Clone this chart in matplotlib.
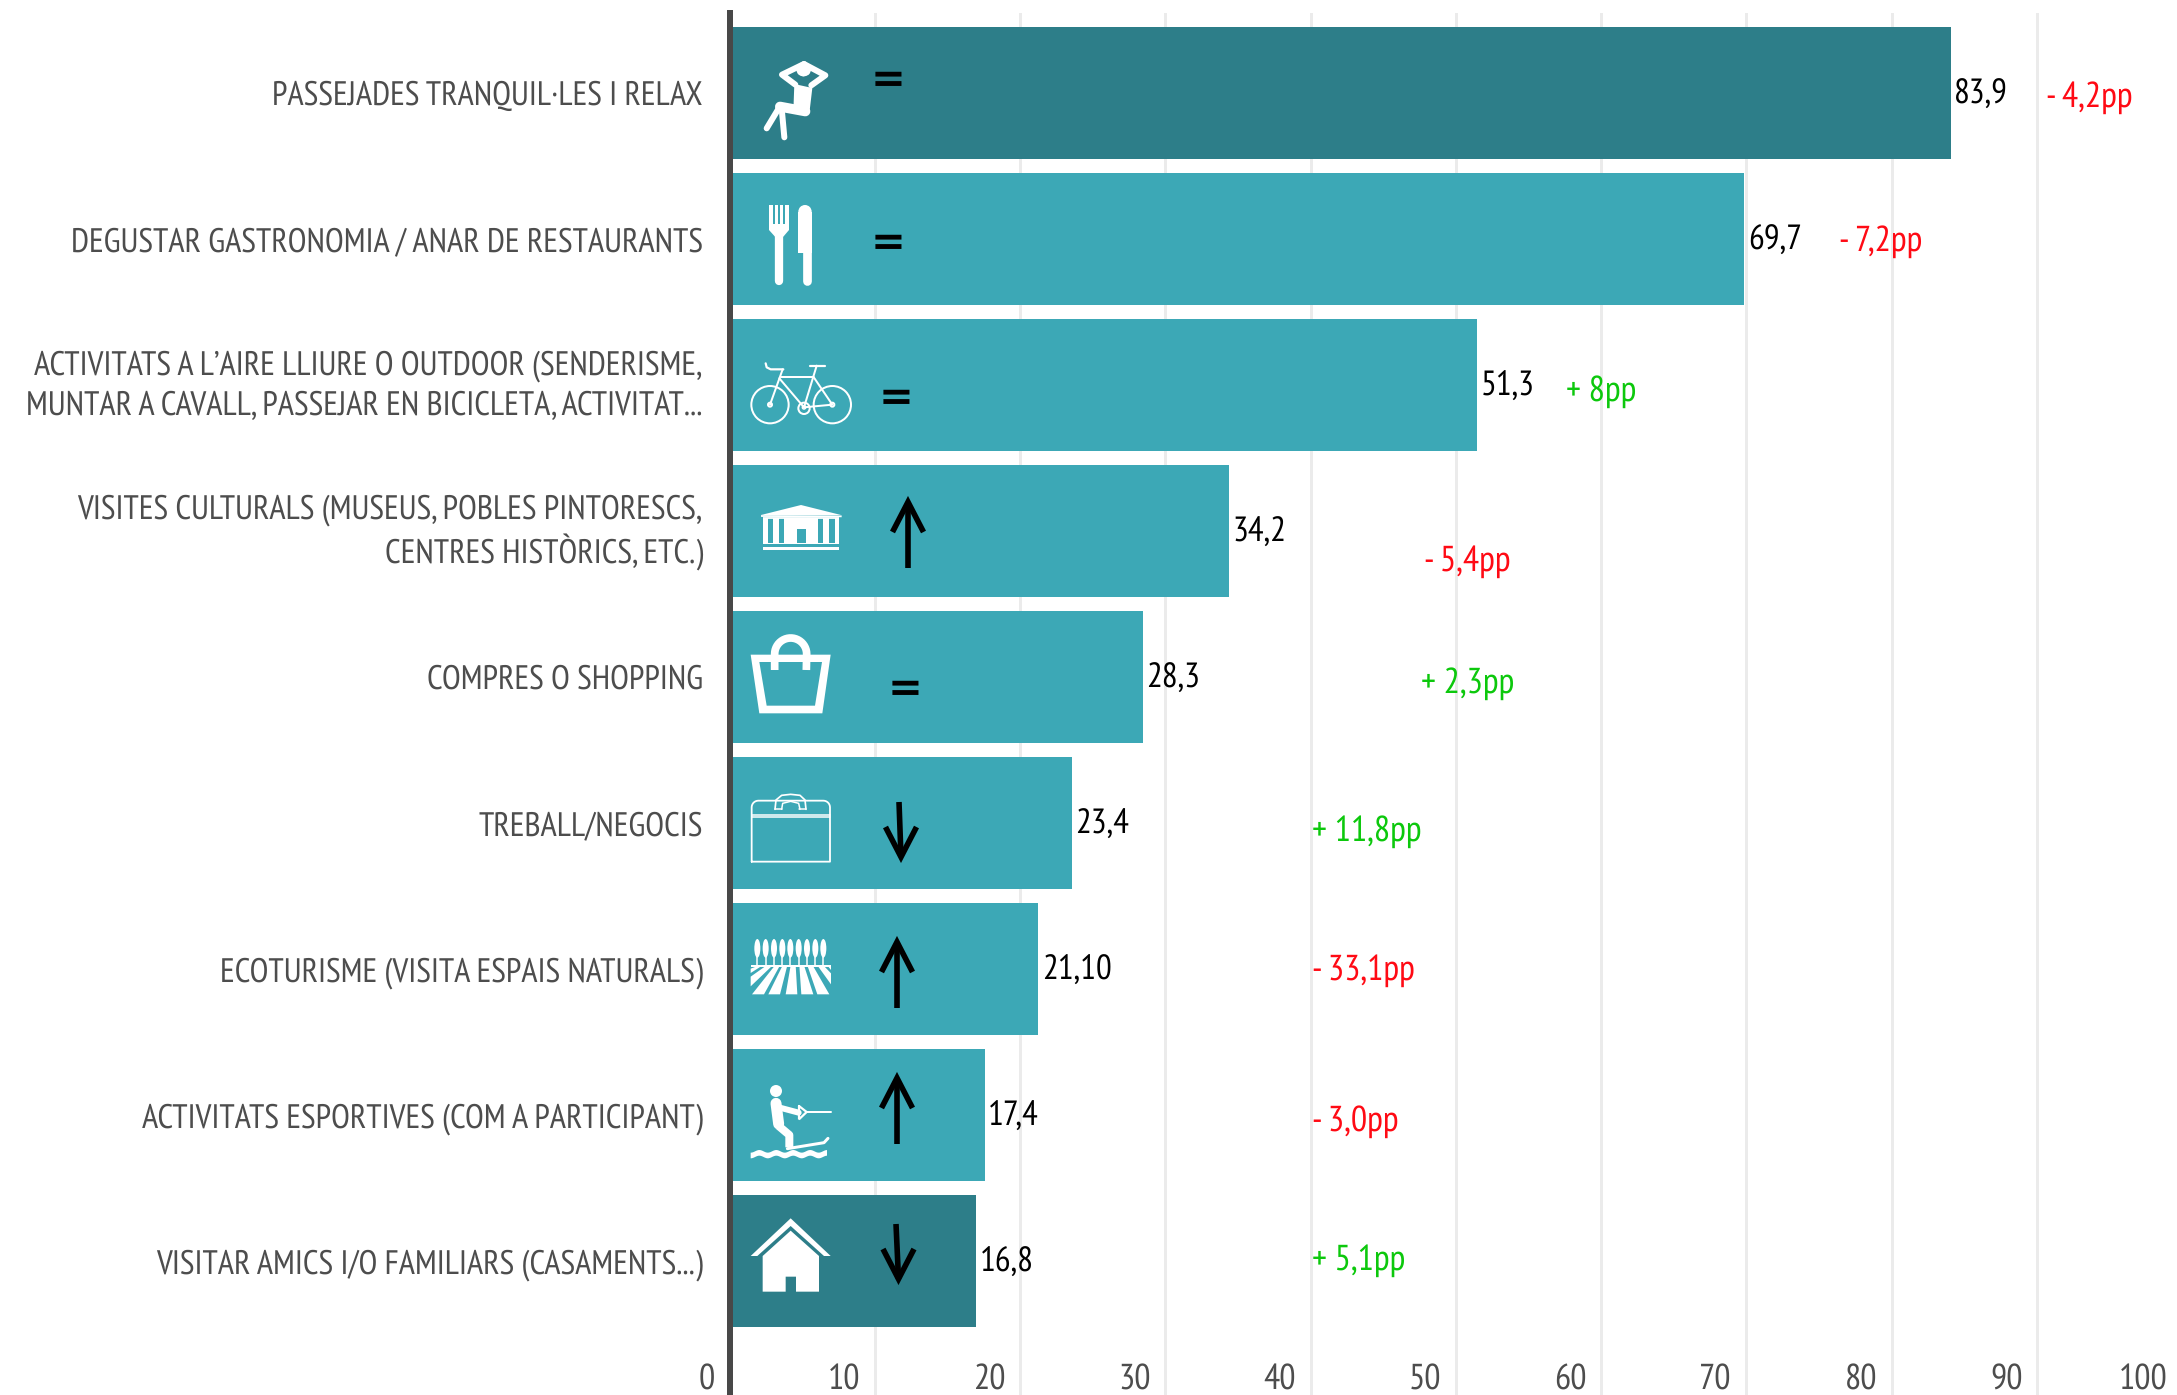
import numpy as np
import matplotlib
matplotlib.use("Agg")
import matplotlib.pyplot as plt
from matplotlib.lines import Line2D
from matplotlib.patches import Polygon, Circle, Ellipse, Rectangle
from matplotlib.transforms import Affine2D, ScaledTranslation

W, H = 2177, 1395
FONT = ["PT Sans Narrow", "DejaVu Sans"]
plt.rcParams["font.family"] = FONT
plt.rcParams["text.hinting"] = "no_hinting"

categories = [
    "PASSEJADES TRANQUIL·LES I RELAX",
    "DEGUSTAR GASTRONOMIA / ANAR DE RESTAURANTS",
    "ACTIVITATS A L’AIRE LLIURE O OUTDOOR (SENDERISME,\nMUNTAR A CAVALL, PASSEJAR EN BICICLETA, ACTIVITAT...",
    "VISITES CULTURALS (MUSEUS, POBLES PINTORESCS,\nCENTRES HISTÒRICS, ETC.)",
    "COMPRES O SHOPPING",
    "TREBALL/NEGOCIS",
    "ECOTURISME (VISITA ESPAIS NATURALS)",
    "ACTIVITATS ESPORTIVES (COM A PARTICIPANT)",
    "VISITAR AMICS I/O FAMILIARS (CASAMENTS...)",
]
values = [83.9, 69.7, 51.3, 34.2, 28.3, 23.4, 21.10, 17.4, 16.8]
value_labels = ["83,9", "69,7", "51,3", "34,2", "28,3", "23,4", "21,10", "17,4", "16,8"]
changes = ["- 4,2pp", "- 7,2pp", "+ 8pp", "- 5,4pp", "+ 2,3pp", "+ 11,8pp", "- 33,1pp", "- 3,0pp", "+ 5,1pp"]
change_x = [90.6, 76.4, 57.6, 47.8, 47.6, 40.1, 40.1, 40.1, 40.1]
change_dy = [1, -1, 3, 27, 3, 5, -2, 3, -4]
highlight = [True, False, False, False, False, False, False, False, True]
xticks = list(range(0, 101, 10))

LIGHT, DARK = "#3CA8B6", "#2D7E89"
GRID, AXIS, GRAY = "#EBEBEB", "#484848", "#4D4D4D"
RED, GREEN = "#FF0A14", "#0CC80C"

px0, px100 = 729.7, 2182.2
row0, pitch = 93.0, 146.0
top_px, bot_px = 13.0, 1395.0

fig = plt.figure(figsize=(W / 100, H / 100), dpi=100, facecolor="white")
ax = fig.add_axes([px0 / W, 0, (px100 - px0) / W, (bot_px - top_px) / H])
ax.set_xlim(0, 100)
ax.set_ylim((bot_px - row0) / pitch, (top_px - row0) / pitch)
ax.set_axisbelow(True)

for s in ("top", "right", "bottom"):
    ax.spines[s].set_visible(False)
ax.spines["left"].set_linewidth(6 * 0.72)
ax.spines["left"].set_color(AXIS)
ax.spines["left"].set_zorder(5)

ax.set_xticks([t for t in xticks])
ax.xaxis.grid(True, color=GRID, lw=3 * 0.72)
ax.tick_params(axis="x", length=0, pad=0, labelsize=26, labelcolor=GRAY, direction="in")
ax.tick_params(axis="y", length=0, pad=27 * 0.72, labelsize=24.7, labelcolor=GRAY)
ax.set_yticks(range(len(categories)), categories, linespacing=1.41, ha="right", ma="right")

ylabs = ax.get_yticklabels()
ylabs[3].set_linespacing(1.25)
for i in (2, 3):
    up = ScaledTranslation(0, (7 if i == 2 else 6) * 0.72 / 72, fig.dpi_scale_trans)
    ylabs[i].set_transform(ylabs[i].get_transform() + up)

xoff = ScaledTranslation(-14.5 * 0.72 / 72, -2 * 0.72 / 72, fig.dpi_scale_trans)
for lab in ax.get_xticklabels():
    lab.set_transform(lab.get_transform() + xoff)
    lab.set_ha("right")
    lab.set_va("bottom")

bar_shift = Affine2D().translate(2.3, 0)
bars = ax.barh(range(len(values)), values, height=132 / pitch,
               color=[DARK if h else LIGHT for h in highlight], zorder=2)
for b in bars:
    b.set_transform(ax.transData + bar_shift)

for i, (v, lab, ch, cx, dy) in enumerate(zip(values, value_labels, changes, change_x, change_dy)):
    ax.annotate(lab, (v, i), xytext=((2.3 + 3.5) * 0.72, -2 * 0.72), textcoords="offset points",
                ha="left", va="center", fontsize=25.3, color="black", zorder=6)
    ax.annotate(ch, (cx, i), xytext=(0, -(dy + 4) * 0.72), textcoords="offset points",
                ha="left", va="center", fontsize=26, color=GREEN if ch.startswith("+") else RED, zorder=6)

# ---------- pictograms and trend signs (decoration, in image pixels) ----------
def T(ox, oy, s=1 / 3):
    return Affine2D().scale(s).translate(ox, oy).scale(1, -1).translate(0, H)

def L(t, pts, lw, c="white", cap="round", join="round", z=4):
    xs, ys = zip(*pts)
    fig.add_artist(Line2D(xs, ys, transform=t, lw=lw * 0.72, color=c, solid_capstyle=cap,
                          solid_joinstyle=join, zorder=z))

def P(t, pts, c="white", z=4):
    fig.add_artist(Polygon(pts, closed=True, transform=t, fc=c, ec="none", zorder=z))

def C(t, x, y, r, c="white", lw=0, z=4, fill=True):
    fig.add_artist(Circle((x, y), r, transform=t, fc=c if fill else "none",
                          ec=c if not fill else "none", lw=lw * 0.72, zorder=z))

def arc(cx, cy, r, a0, a1, n=24):
    a = np.radians(np.linspace(a0, a1, n))
    return list(zip(cx + r * np.cos(a), cy + r * np.sin(a)))

def arrow(x, y_from, y_to, x_tip=None):
    """Black arrow from y_from (tail) to y_to (tip), image pixels."""
    t = T(0, 0, 1)
    x_tip = x if x_tip is None else x_tip
    d = 1 if y_to > y_from else -1
    L(t, [(x, y_from), (x_tip, y_to - d * 3)], 5.6, "black", cap="butt", z=7)
    L(t, [(x_tip - 15.5, y_to - d * 33), (x_tip, y_to - d * 3), (x_tip + 15.5, y_to - d * 33)],
      5.6, "black", cap="butt", join="miter", z=7)

# trend signs
for x, y in [(888.5, 76), (888.5, 239), (896.5, 394), (904.7, 685)]:
    fig.text(x / W, 1 - y / H, "=", family="DejaVu Sans", weight="bold", fontsize=30,
             ha="center", va="center_baseline", color="black", zorder=7)
arrow(908, 568, 499)
arrow(899, 802, 860, 901)
arrow(897, 1008, 939)
arrow(897, 1144, 1075)
arrow(896, 1224, 1282, 898.5)

# man relaxing
t = T(700, 0)
L(t, [(312, 192), (246, 224), (286, 254)], 6)
L(t, [(312, 192), (376, 226), (334, 256)], 6)
C(t, 311, 208, 22)
L(t, [(288, 226), (310, 234), (334, 226)], 2, DARK)
P(t, [(283, 252), (337, 264), (328, 340), (280, 335)])
L(t, [(316, 334), (240, 320)], 10)
L(t, [(238, 322), (200, 385)], 6)
L(t, [(245, 325), (253, 412)], 6)

# cutlery
t = T(700, 0)
P(t, [(207, 615), (267, 615), (267, 690), (250, 710), (225, 710), (207, 690)])
for gx in (222, 237, 252):
    P(t, [(gx - 2.5, 615), (gx + 2.5, 615), (gx + 2.5, 672), (gx - 2.5, 672)], LIGHT)
L(t, [(238, 700), (238, 843)], 8.3)
C(t, 315, 635, 20)
P(t, [(295, 635), (335, 635), (335, 760), (295, 760)])
L(t, [(322, 750), (322, 843)], 8.7)

# bicycle
t = T(700, 0)
for cx in (210, 397):
    C(t, cx, 1214, 56, lw=2, fill=False)
    C(t, cx, 1214, 6, lw=2, fill=False)
L(t, [(242, 1130), (340, 1130)], 2)
L(t, [(248, 1108), (210, 1214)], 2)
L(t, [(238, 1135), (312, 1222), (340, 1130)], 2)
L(t, [(340, 1130), (397, 1214), (312, 1222)], 2)
L(t, [(197, 1090), (200, 1102), (212, 1108), (250, 1108)], 2.2)
L(t, [(330, 1097), (375, 1097)], 2.2)
L(t, [(350, 1097), (340, 1130)], 2)
C(t, 312, 1225, 17, lw=2, fill=False)
C(t, 312, 1222, 5, lw=1.5, fill=False)

# museum
t = T(700, 460)
P(t, [(183, 165), (303, 135), (423, 165)])
L(t, [(183, 168), (425, 169)], 1.8, cap="butt")
L(t, [(190, 174), (418, 174)], 1.8, cap="butt")
for a, b in [(190, 205), (220, 237), (370, 387), (405, 418)]:
    P(t, [(a, 174), (b, 174), (b, 248), (a, 248)])
P(t, [(252, 174), (355, 174), (355, 248), (318, 248), (318, 208), (290, 208), (290, 248), (252, 248)])
P(t, [(190, 248), (418, 248), (418, 252), (190, 252)])
P(t, [(190, 260), (418, 260), (418, 270), (190, 270)])

# shopping bag
t = T(700, 460)
P(t, [(152, 584), (392, 584), (367, 760), (178, 760)])
P(t, [(178, 606), (366, 606), (345, 737), (200, 737)], LIGHT)
L(t, [(224, 630)] + arc(272, 582, 48, 180, 360) + [(319, 630)], 7.7, cap="butt")

# briefcase
t = T(700, 460)
L(t, [(155, 1205), (155, 1042)] + arc(175, 1042, 20, 180, 270, 8) + arc(370, 1042, 20, 270, 360, 8)
  + [(390, 1205), (155, 1205)], 1.8)
L(t, [(155, 1066), (390, 1066)], 1.5)
L(t, [(155, 1072), (390, 1072)], 1.5)
L(t, [(225, 1048), (228, 1020), (245, 1006), (272, 1003), (300, 1006), (315, 1020), (318, 1048)], 1.7)
L(t, [(245, 1048), (248, 1030), (272, 1024), (296, 1030), (300, 1048)], 1.5)
L(t, [(225, 1048), (247, 1048)], 1.5)
L(t, [(297, 1048), (319, 1048)], 1.5)

# countryside
t = T(730, 905)
for x in (82, 107, 132, 157, 181, 206, 231, 256, 280):
    fig.add_artist(Ellipse((x, 130), 18, 56, transform=t, fc="white", ec="none", zorder=4))
    L(t, [(x, 150), (x, 181)], 1.5, cap="butt")
P(t, [(62, 180), (303, 180), (303, 186), (62, 186)])
for poly in ([(62, 191), (88, 181), (98, 181), (62, 204)],
             [(62, 215), (110, 181), (128, 181), (62, 244)],
             [(66, 268), (135, 181), (150, 181), (102, 268)],
             [(115, 268), (158, 181), (172, 181), (150, 268)],
             [(167, 268), (182, 181), (197, 181), (202, 268)],
             [(214, 268), (208, 181), (222, 181), (250, 268)],
             [(262, 268), (232, 181), (248, 181), (298, 268)],
             [(262, 181), (280, 181), (303, 205), (303, 238)],
             [(290, 181), (303, 181), (303, 195)]):
    P(t, poly)

# water skier
t = T(700, 1000)
C(t, 228, 273, 18)
L(t, [(228, 310), (236, 372)], 11)
L(t, [(236, 322), (296, 338)], 6)
L(t, [(236, 378), (268, 405), (268, 442)], 8, cap="butt")
L(t, [(297, 318), (320, 336), (297, 358), (297, 318)], 2.2, join="miter")
L(t, [(320, 336), (392, 336)], 2)
L(t, [(262, 446), (372, 428), (384, 415)], 3)
xw = np.linspace(152, 381, 60)
yw = 4 * np.sin((xw - 152) / 229 * 2 * np.pi * 4.5 + 1.5)
P(t, list(zip(xw, 454 + yw)) + list(zip(xw[::-1], (471 + yw)[::-1])))

# house
t = T(700, 1000)
P(t, [(272, 655), (392, 768), (372, 768), (272, 678), (172, 768), (152, 768)])
P(t, [(188, 768), (272, 692), (357, 768), (357, 875), (288, 875), (288, 830), (257, 830),
      (257, 875), (188, 875)])

fig.savefig("out.png", dpi=100, facecolor="white")
